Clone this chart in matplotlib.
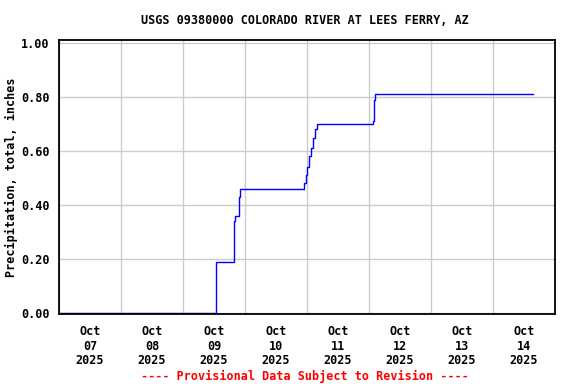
import pandas as pd
import numpy as np
import matplotlib.pyplot as plt
import matplotlib as mpl
import matplotlib.dates as mdates

mpl.rcParams['font.family'] = 'DejaVu Sans Mono'
mpl.rcParams['font.weight'] = 'bold'

# cumulative precipitation readings (inches)
times = ["2025-10-07 00:00", "2025-10-09 12:30", "2025-10-09 12:35", "2025-10-09 12:45",
         "2025-10-09 19:30", "2025-10-09 19:45", "2025-10-09 20:15", "2025-10-09 21:00",
         "2025-10-09 21:30", "2025-10-09 22:00", "2025-10-10 22:30", "2025-10-10 23:00",
         "2025-10-10 23:30", "2025-10-11 00:00", "2025-10-11 00:45", "2025-10-11 01:30",
         "2025-10-11 02:15", "2025-10-11 03:00", "2025-10-11 03:45", "2025-10-12 01:00",
         "2025-10-12 01:30", "2025-10-12 01:45", "2025-10-12 02:30", "2025-10-14 15:30"]
precip = [0.00, 0.00, 0.07, 0.19,
          0.19, 0.34, 0.36, 0.36,
          0.43, 0.46, 0.46, 0.48,
          0.51, 0.54, 0.58, 0.61,
          0.65, 0.68, 0.70, 0.70,
          0.71, 0.79, 0.81, 0.81]
day_labels = ["Oct\n07\n2025", "Oct\n08\n2025", "Oct\n09\n2025", "Oct\n10\n2025",
              "Oct\n11\n2025", "Oct\n12\n2025", "Oct\n13\n2025", "Oct\n14\n2025"]
y_ticks = [0.0, 0.2, 0.4, 0.6, 0.8, 1.0]

t = pd.to_datetime(times)
start = pd.Timestamp("2025-10-07")
end = pd.Timestamp("2025-10-15")

fig = plt.figure(figsize=(5.76, 3.84), dpi=100)
ax = fig.add_axes([59/576, 1 - 314/384, 496/576, 274/384])

ax.plot(t, precip, color='#0000ff', lw=1.0, drawstyle='steps-post')

ax.set_xlim(start, end)
ax.set_ylim(-0.003, 1.011)

midnights = pd.date_range(start, end, freq='D')
noons = pd.date_range(start + pd.Timedelta(hours=12), periods=len(day_labels), freq='D')
ax.set_xticks(midnights)
ax.set_xticklabels([])
ax.set_xticks(noons, minor=True)
ax.set_xticklabels(day_labels, minor=True, fontsize=8.5, fontweight='bold', linespacing=1.15)
ax.tick_params(axis='x', which='both', length=0, pad=8)

ax.set_yticks(y_ticks)
ax.set_yticklabels([f'{v:.2f}' for v in y_ticks], fontsize=8.5, fontweight='bold')
ax.tick_params(axis='y', length=0, pad=7)

ax.grid(True, which='major', color='#cccccc', lw=1.0)
ax.set_axisbelow(True)
for s in ax.spines.values():
    s.set_color('black')
    s.set_linewidth(1.3)

ax.set_ylabel('Precipitation, total, inches', fontsize=8.5, fontweight='bold', labelpad=2)

fig.text(305/576, 1 - 20/384, 'USGS 09380000 COLORADO RIVER AT LEES FERRY, AZ',
         ha='center', va='center', fontsize=8.5, fontweight='bold')
fig.text(305/576, 1 - 376/384, '---- Provisional Data Subject to Revision ----',
         ha='center', va='center', fontsize=8.5, fontweight='bold', color='#ff0000')

fig.savefig('out.png', dpi=100)
plt.close()
